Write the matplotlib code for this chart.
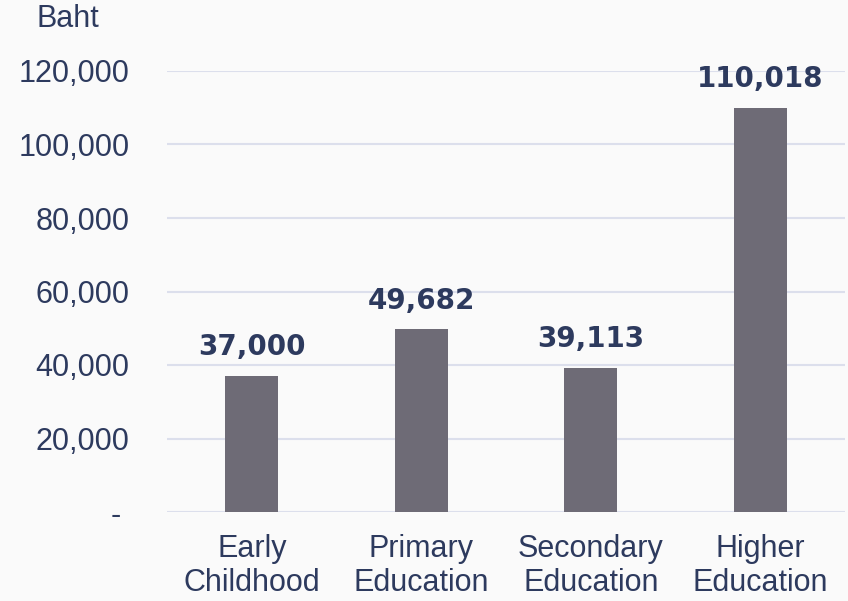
import matplotlib
matplotlib.use("Agg")
import matplotlib.pyplot as plt
from matplotlib.ticker import FuncFormatter

categories = ["Early\nChildhood", "Primary\nEducation", "Secondary\nEducation", "Higher\nEducation"]
values = [37000, 49682, 39113, 110018]
yticks = [0, 20000, 40000, 60000, 80000, 100000, 120000]
unit_label = "Baht"

bg = "#fafafa"
navy = "#2d3a5e"
bar_color = "#6e6b76"
grid_color = "#dcdfec"

fig = plt.figure(figsize=(8.48, 6.01), dpi=100, facecolor=bg)
ax = fig.add_axes([167/848, 89/601, (845-167)/848, (512-71)/601], facecolor=bg)

x = range(len(categories))
ax.bar(x, values, width=0.31, color=bar_color, zorder=3)

ax.set_xlim(-0.5, len(categories) - 0.5)
ax.set_ylim(0, 120000)
ax.set_yticks(yticks)
ax.yaxis.set_major_formatter(FuncFormatter(lambda v, p: "- " if v == 0 else f"{int(v):,}"))
ax.grid(axis="y", color=grid_color, linewidth=1.5, zorder=0)
ax.set_axisbelow(True)
for s in ax.spines.values():
    s.set_visible(False)
ax.tick_params(axis="both", length=0)
ax.tick_params(axis="y", pad=27, labelsize=22, labelcolor=navy)
ax.tick_params(axis="x", pad=16, labelcolor=navy)
for lab in ax.get_yticklabels():
    lab.set_family(["Liberation Sans", "DejaVu Sans"])
ax.set_xticks(list(x))
ax.set_xticklabels(categories, fontsize=22, color=navy,
                   family=["Liberation Sans", "DejaVu Sans"],
                   linespacing=1.17)

for xi, v in zip(x, values):
    ax.annotate(f"{v:,}", (xi, v), xytext=(0, 15), textcoords="offset points",
                ha="center", va="baseline", fontsize=20, fontweight="bold",
                color=navy, family=["DejaVu Sans"], clip_on=False, zorder=4)

fig.text(68/848, 1 - 19/601, unit_label, ha="center", va="center", fontsize=22,
         color=navy, family=["Liberation Sans", "DejaVu Sans"])

fig.savefig("out.png", dpi=100, facecolor=bg)
